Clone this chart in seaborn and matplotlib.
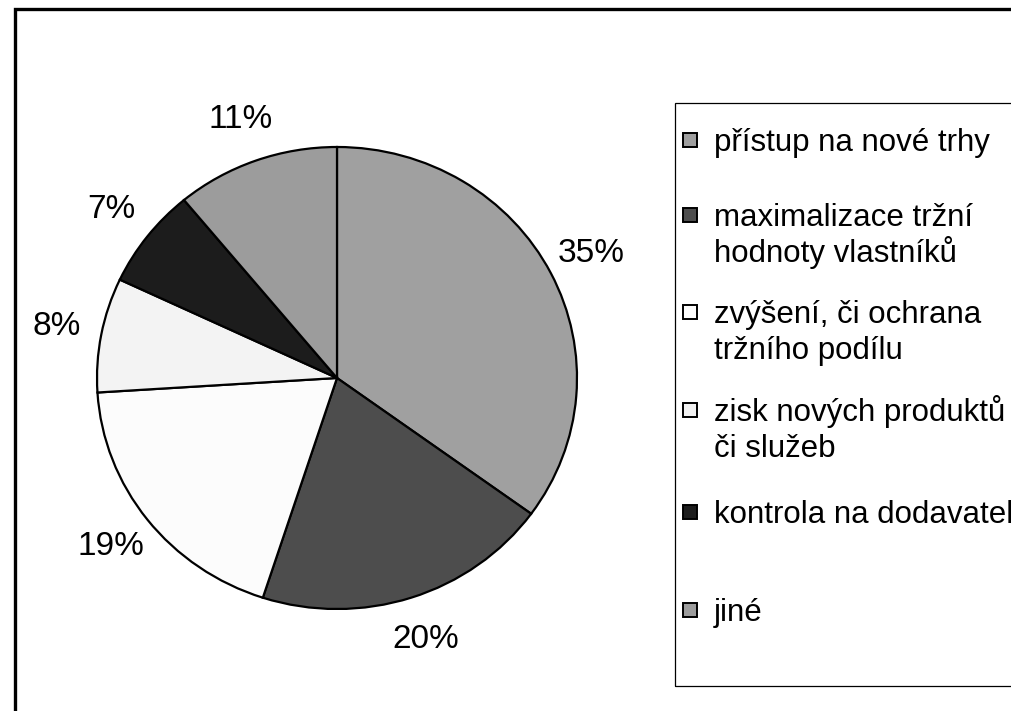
"""
Koláčový graf: motivy akvizic (podíl odpovědí).
"""

import matplotlib
matplotlib.use("Agg")
import matplotlib.pyplot as plt
from matplotlib.patches import Rectangle
import seaborn as sns

# data
labels = [
    "přístup na nové trhy",
    "maximalizace tržní\nhodnoty vlastníků",
    "zvýšení, či ochrana\ntržního podílu",
    "zisk nových produktů\nči služeb",
    "kontrola na dodavatele",
    "jiné",
]
shares = [35, 20, 19, 8, 7, 11]
colors = ["#a0a0a0", "#4d4d4d", "#fcfcfc", "#f3f3f3", "#1c1c1c", "#9c9c9c"]

sns.set_theme(style="white")
plt.rcParams["font.family"] = ["Liberation Sans", "DejaVu Sans"]
plt.rcParams["text.color"] = "black"

W, H = 1012, 711
fig = plt.figure(figsize=(W / 100, H / 100), dpi=100)

# pie axes (slightly wider than tall like the original)
cx, cy, rx, ry = 337, 378, 240, 231
ax = fig.add_axes([(cx - rx) / W, (H - cy - ry) / H, 2 * rx / W, 2 * ry / H])
wedges, texts, autotexts = ax.pie(
    shares,
    colors=colors,
    startangle=90,
    counterclock=False,
    autopct="%1.0f%%",
    pctdistance=1.19,
    wedgeprops={"edgecolor": "black", "linewidth": 1.6},
    textprops={"fontsize": 24, "color": "black"},
)
ax.set_aspect("auto")
ax.set_xlim(-1, 1)
ax.set_ylim(-1, 1)
ax.axis("off")

# outer frame (left + top visible)
fig.patches.append(Rectangle((15 / W, -0.05), 1.2, (H - 9) / H + 0.05,
                             transform=fig.transFigure, fill=False,
                             edgecolor="black", linewidth=2.4))

# legend box (right side runs off the figure like the original)
lx, ltop, lbot = 675, 103, 686
fig.patches.append(Rectangle((lx / W, (H - lbot) / H), 0.5, (lbot - ltop) / H,
                             transform=fig.transFigure, fill=False,
                             edgecolor="black", linewidth=0.9))

entry_y = [140, 215, 312, 410, 512, 610]
for lab, col, y in zip(labels, colors, entry_y):
    fig.patches.append(Rectangle((683 / W, (H - y - 7) / H), 14 / W, 14 / H,
                                 transform=fig.transFigure, facecolor=col,
                                 edgecolor="black", linewidth=1.4))
    for i, line in enumerate(lab.split("\n")):
        fig.text(714 / W, (H - y - 11 - 36 * i) / H, line, fontsize=22.5,
                 va="baseline", ha="left", color="black")

fig.savefig("out.png", dpi=100)
